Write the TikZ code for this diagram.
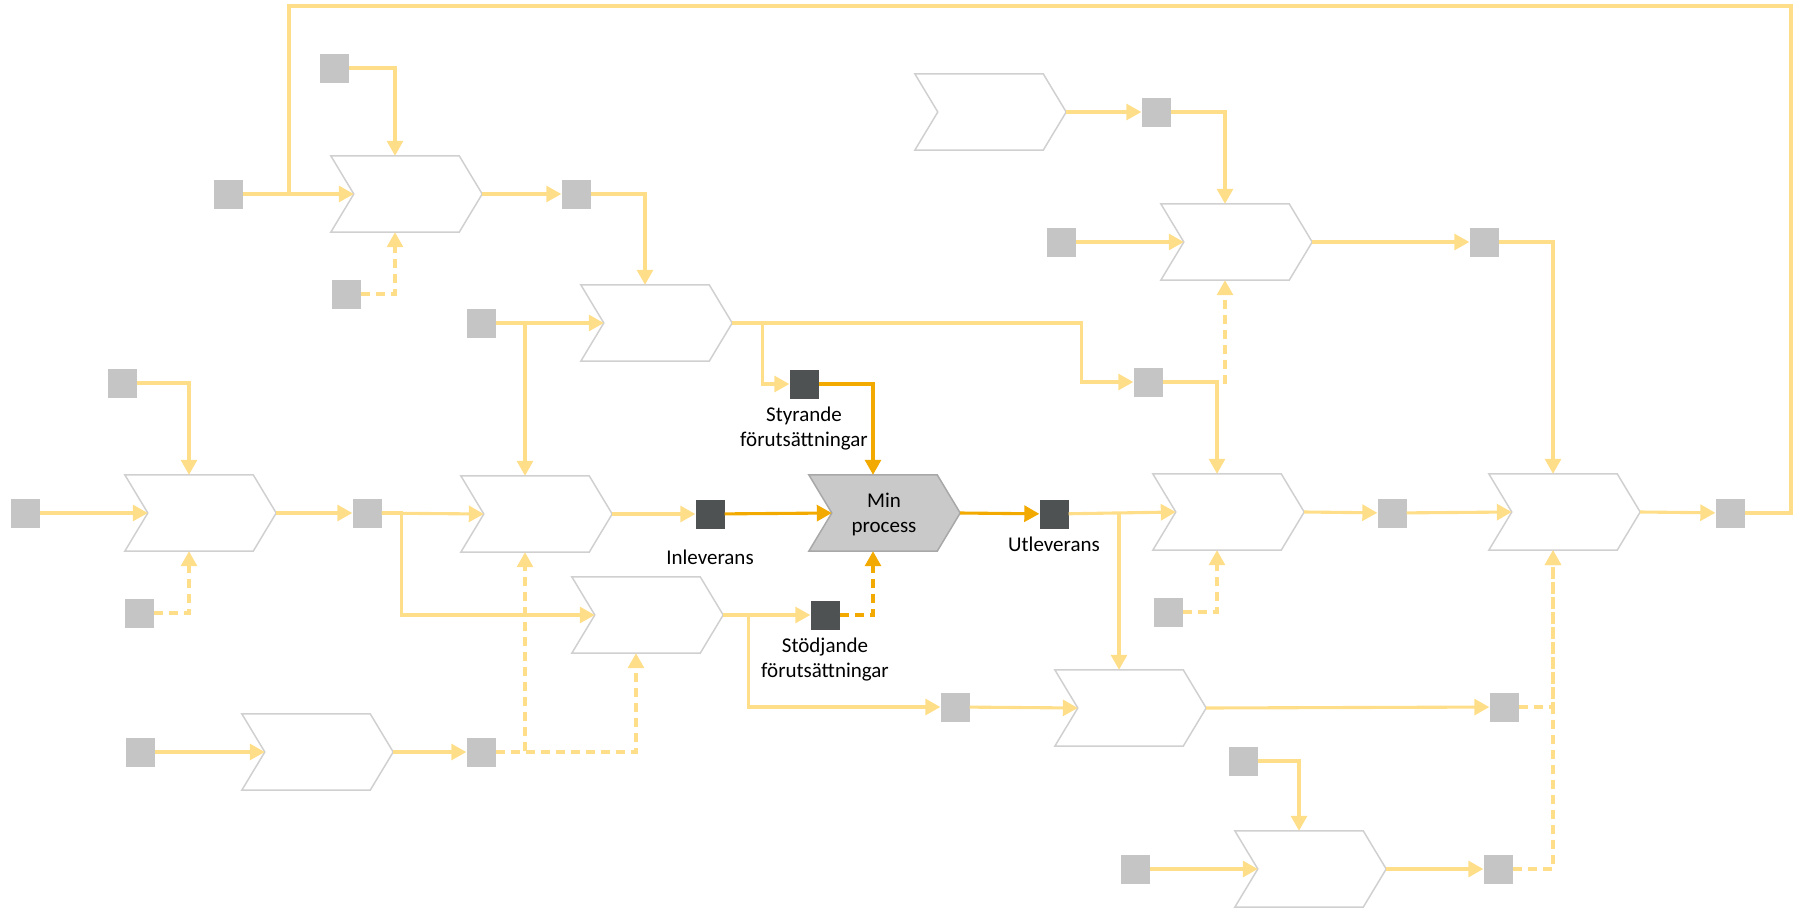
\documentclass[tikz,border=0pt]{standalone}
\usepackage{fontspec}
\setmainfont{Carlito}
\usetikzlibrary{positioning,arrows.meta,calc}
\definecolor{flowc}{HTML}{FFDE8A}
\definecolor{keyc}{HTML}{F2A900}
\definecolor{boxgray}{HTML}{C4C5C4}
\definecolor{boxdark}{HTML}{4F5253}
\definecolor{rim}{HTML}{D0D0D0}
\definecolor{minfill}{HTML}{C9C9C9}
\definecolor{minrim}{HTML}{A8A8A8}
% chevron: invisible box for anchors, outline drawn over it
\newcommand{\proc}[3][]{%
  \node[procbox] (#2) at (#3) {};
  \draw[procline,#1] (#2.north west) -- (#2.north east) -- ([xshift=23pt]#2.east) coordinate (#2-out)
    -- (#2.south east) -- (#2.south west) -- ([xshift=23pt]#2.west) coordinate (#2-in) -- cycle;}

\begin{document}
\begin{tikzpicture}[x=1pt, y=-1pt, font=\fontsize{21}{25}\selectfont,
    procbox/.style={minimum width=128pt, minimum height=76pt, inner sep=0pt},
    procline/.style={draw=rim, line width=1.5pt},
    sq/.style={minimum size=29pt, inner sep=0pt, fill=boxgray},
    keysq/.style={sq, fill=boxdark},
    flow/.style={draw=flowc, line width=3.1pt, -{Triangle[length=15pt,width=16pt]}},
    supp/.style={flow, dash pattern=on 9pt off 6pt},
    key/.style={flow, draw=keyc},
    keysupp/.style={key, dash pattern=on 9pt off 6pt},
    lbl/.style={inner sep=0pt, align=center}]
  \useasboundingbox (0,0) rectangle (1800,913);

  % processes
  \proc{p1}{395,194}
  \proc{p2}{645,323}
  \proc{p3}{189,513}
  \proc{p4}{525,514}
  \proc[fill=minfill, draw=minrim]{min}{873,513}
  \node[lbl] (mintxt) at (884,514) {Min\\process};
  \proc{p6}{636,615}
  \proc{p7}{306,752}
  \proc{p8}{979,112}
  \proc{p9}{1225,242}
  \proc{p10}{1217,512}
  \proc{p11}{1553,512}
  \proc{p12}{1119,708}
  \proc{p13}{1299,869}

  % objects
  \node[sq] (p1ctl) at (334,68) {};
  \node[sq] (p1src) at (228,194) {};
  \node[sq] (p1sup) at (346,294) {};
  \node[sq] (p1res) at (576,194) {};
  \node[sq] (p2src) at (481,323) {};
  \node[sq] (p3ctl) at (122,383) {};
  \node[sq] (p3src) at (25,513) {};
  \node[sq] (p3res) at (367,513) {};
  \node[sq] (p3sup) at (139,613) {};
  \node[sq] (p7src) at (140,752) {};
  \node[sq] (p7res) at (481,752) {};
  \node[sq] (p12src) at (955,707) {};
  \node[sq] (p8res) at (1156,112) {};
  \node[sq] (p9src) at (1061,242) {};
  \node[sq] (p9res) at (1484,242) {};
  \node[sq] (p2res) at (1148,382) {};
  \node[sq] (p10sup) at (1168,612) {};
  \node[sq] (p10res) at (1392,513) {};
  \node[sq] (p11res) at (1730,513) {};
  \node[sq] (p12res) at (1504,707) {};
  \node[sq] (p13ctl) at (1243,761) {};
  \node[sq] (p13src) at (1135,869) {};
  \node[sq] (p13res) at (1498,869) {};

  \node[keysq] (styr) at (804,384) {};
  \node[keysq] (inlev) at (710,514) {};
  \node[keysq] (utlev) at (1054,514) {};
  \node[keysq] (stod) at (825,615) {};
  \node[lbl, below=8pt of styr] (styrlbl) {Styrande\\förutsättningar};
  \node[lbl, below=21pt of inlev] (inlevlbl) {Inleverans};
  \node[lbl, below=8pt of utlev] (utlevlbl) {Utleverans};
  \node[lbl, below=8pt of stod] (stodlbl) {Stödjande\\förutsättningar};

  \coordinate (loopR) at (1791,6);
  \coordinate (loopL) at (289,6);

  % flows
  \draw[flow] (p1ctl.east) -| (p1.north);
  \draw[flow] (p1src) -- (p1-in);
  \draw[flow, -] (p11res.east) -| (loopR) -- (loopL) -- (loopL |- p1src);
  \draw[supp] (p1sup.east) -| (p1.south);
  \draw[flow] (p1-out) -- (p1res);
  \draw[flow] (p1res.east) -| (p2.north);
  \draw[flow] (p2src) -- (p2-in);
  \draw[flow] (p4.north |- p2src) -- (p4.north);
  \draw[flow] (p2-out) -- ++(30,0) |- (styr.west);
  \draw[flow] (p2-out) -- ++(349,0) |- (p2res.west);
  \draw[flow] (p3ctl.east) -| (p3.north);
  \draw[flow] (p3src) -- (p3-in);
  \draw[flow] (p3-out) -- (p3res);
  \draw[flow] (p3res) -- (p4-in);
  \draw[flow] (p3res.east) -- ++(20,0) |- (p6-in);
  \draw[supp] (p3sup.east) -| (p3.south);
  \draw[flow] (p4-out) -- (inlev);
  \draw[flow] (p7src) -- (p7-in);
  \draw[flow] (p7-out) -- (p7res);
  \draw[supp] (p7res.east) -| (p4.south);
  \draw[supp] (p7res.east) -| (p6.south);
  \draw[flow] (p6-out) -- (stod);
  \draw[flow] (p6-out) -- ++(25,0) |- (p12src.west);
  \draw[flow] (utlev) -- (p10-in);
  \draw[flow] (p12.north |- utlev) -- (p12.north);
  \draw[flow] (p12src) -- (p12-in);
  \draw[flow] (p12-out) -- (p12res);
  \draw[supp] (p12res.east) -| (p11.south);
  \draw[flow] (p13ctl.east) -| (p13.north);
  \draw[flow] (p13src) -- (p13-in);
  \draw[flow] (p13-out) -- (p13res);
  \draw[supp] (p13res.east) -| (p11.south);
  \draw[flow] (p8-out) -- (p8res);
  \draw[flow] (p8res.east) -| (p9.north);
  \draw[flow] (p9src) -- (p9-in);
  \draw[supp] (p2res.east) -| (p9.south);
  \draw[flow] (p2res.east) -| (p10.north);
  \draw[flow] (p9-out) -- (p9res);
  \draw[flow] (p9res.east) -| (p11.north);
  \draw[supp] (p10sup.east) -| (p10.south);
  \draw[flow] (p10-out) -- (p10res);
  \draw[flow] (p10res) -- (p11-in);
  \draw[flow] (p11-out) -- (p11res);

  % my process
  \draw[key] (styr.east) -| (min.north);
  \draw[key] (inlev) -- (min-in);
  \draw[key] (min-out) -- (utlev);
  \draw[keysupp] (stod.east) -| (min.south);
\end{tikzpicture}
\end{document}
